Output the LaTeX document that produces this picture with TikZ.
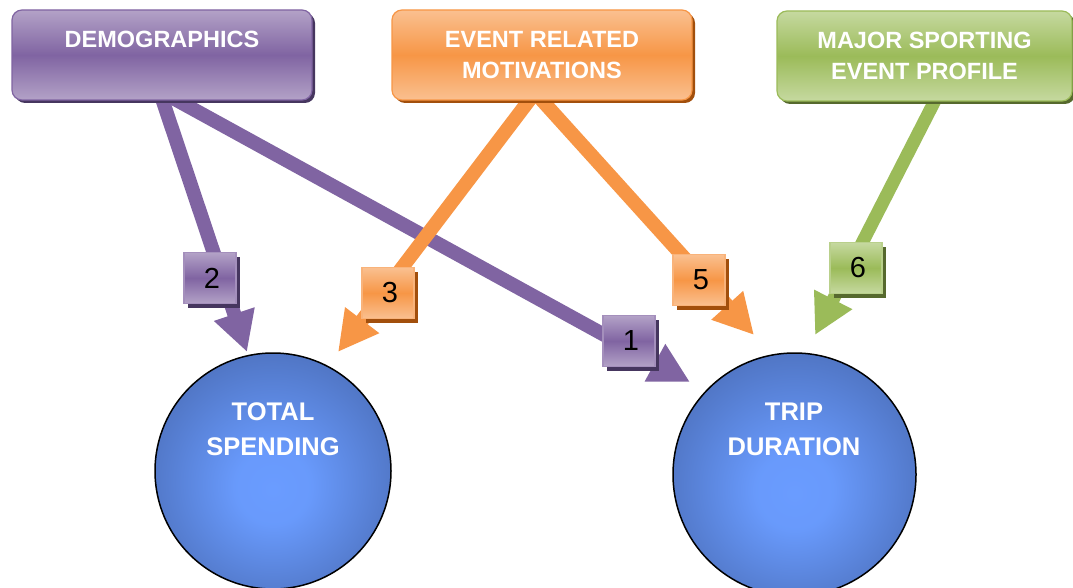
\documentclass[tikz,border=0pt]{standalone}
\usepackage{fontspec}
\setmainfont{Liberation Sans}
\usetikzlibrary{arrows.meta,shadows,backgrounds}

\definecolor{purpMid}{HTML}{8064A2}
\definecolor{purpLight}{HTML}{B3A2C7}
\definecolor{purpDark}{HTML}{46365F}
\definecolor{orgMid}{HTML}{F79646}
\definecolor{orgLight}{HTML}{FAC090}
\definecolor{orgDark}{HTML}{A24F0C}
\definecolor{grnMid}{HTML}{9BBB59}
\definecolor{grnLight}{HTML}{C6D9A0}
\definecolor{grnDark}{HTML}{56692E}
\definecolor{ballIn}{HTML}{6A9CFF}
\definecolor{ballOut}{HTML}{4A6CB6}

\pgfdeclareradialshading{ballshade}{\pgfpoint{0bp}{-4bp}}{%
  color(0bp)=(ballIn); color(8bp)=(ballIn!95!ballOut);
  color(32bp)=(ballOut); color(50bp)=(ballOut)}

\tikzset{
  bigbox/.style={rounded corners=10pt, minimum width=300pt, minimum height=90pt,
    align=center, text=white, inner sep=0pt, line width=1.2pt,
    font=\bfseries\fontsize{23.5}{31}\selectfont},
  tagbox/.style={minimum width=52pt, minimum height=51pt, inner sep=0pt,
    line width=1.5pt, font=\fontsize{29}{30}\selectfont},
  purpfill/.style={top color=purpLight, bottom color=purpLight, middle color=purpMid},
  orgfill/.style={top color=orgLight, bottom color=orgLight, middle color=orgMid},
  grnfill/.style={top color=grnLight, bottom color=grnLight, middle color=grnMid},
  purpbig/.style={bigbox, draw=purpMid, purpfill,
    drop shadow={shadow xshift=3pt, shadow yshift=-3pt, fill=purpDark, opacity=1}},
  orgbig/.style={bigbox, draw=orgMid, orgfill,
    drop shadow={shadow xshift=3pt, shadow yshift=-3pt, fill=orgDark, opacity=1}},
  grnbig/.style={bigbox, draw=grnMid, grnfill,
    drop shadow={shadow xshift=3pt, shadow yshift=-3pt, fill=grnDark, opacity=1}},
  purptag/.style={tagbox, draw=purpLight!70!purpMid, purpfill,
    drop shadow={shadow xshift=4pt, shadow yshift=-4pt, fill=purpDark, opacity=1}},
  orgtag/.style={tagbox, draw=orgLight!70!orgMid, orgfill,
    drop shadow={shadow xshift=4pt, shadow yshift=-4pt, fill=orgDark, opacity=1}},
  grntag/.style={tagbox, draw=grnLight!70!grnMid, grnfill,
    drop shadow={shadow xshift=4pt, shadow yshift=-4pt, fill=grnDark, opacity=1}},
  bigarrow/.style={line width=14pt, -{Triangle[length=40pt,width=40pt]}},
  ball/.style={circle, draw=black, line width=1.5pt, shading=ballshade, inner sep=0pt},
  balltext/.style={align=center, text=white, font=\bfseries\fontsize{25.5}{35}\selectfont}
}

\begin{document}
\begin{tikzpicture}[x=1pt,y=-1pt]
\useasboundingbox (0,0) rectangle (1073,588);

% factor boxes
\node[purpbig] (demo)  at (162,55)   {DEMOGRAPHICS\\ \mbox{}};
\node[orgbig]  (event) at (542,55)   {EVENT RELATED\\MOTIVATIONS};
\node[grnbig, minimum width=295pt] (major) at (924.5,56) {MAJOR SPORTING\\EVENT PROFILE};

% arrow end points
\coordinate (tip1) at (690,382);
\coordinate (tip2) at (247,352);
\coordinate (tip3) at (338,352);
\coordinate (tip5) at (754,335);
\coordinate (tip6) at (815,335);

% connectors, behind the boxes
\begin{scope}[on background layer]
  \draw[bigarrow, purpMid] ([xshift=-2pt,yshift=8pt]demo.south) -- (tip2);
  \draw[bigarrow, purpMid] ([xshift=1pt,yshift=8pt]demo.south) -- (tip1);
  \draw[bigarrow, orgMid]  ([xshift=-7pt,yshift=8pt]event.south) -- (tip3);
  \draw[bigarrow, orgMid]  ([xshift=-7pt,yshift=8pt]event.south) -- (tip5);
  \draw[bigarrow, grnMid, line width=13pt] ([xshift=14pt,yshift=8pt]major.south) -- (tip6);
\end{scope}

% path numbers
\node[purptag] (n2) at (210,278) {\hspace{4pt}2};
\node[orgtag]  (n3) at (388,293) {\hspace{4pt}3};
\node[purptag] (n1) at (629,341) {\hspace{4pt}1};
\node[orgtag]  (n5) at (699,280) {\hspace{4pt}5};
\node[grntag]  (n6) at (856,268) {\hspace{4pt}6};

% outcomes
\node[ball, minimum size=236pt] (spend) at (273,471) {};
\node[balltext] (spendText) at (273,429) {TOTAL\\SPENDING};
\node[ball, minimum size=243pt] (trip) at (794.5,474.5) {};
\node[balltext] (tripText) at (794,429) {TRIP\\DURATION};
\end{tikzpicture}
\end{document}
